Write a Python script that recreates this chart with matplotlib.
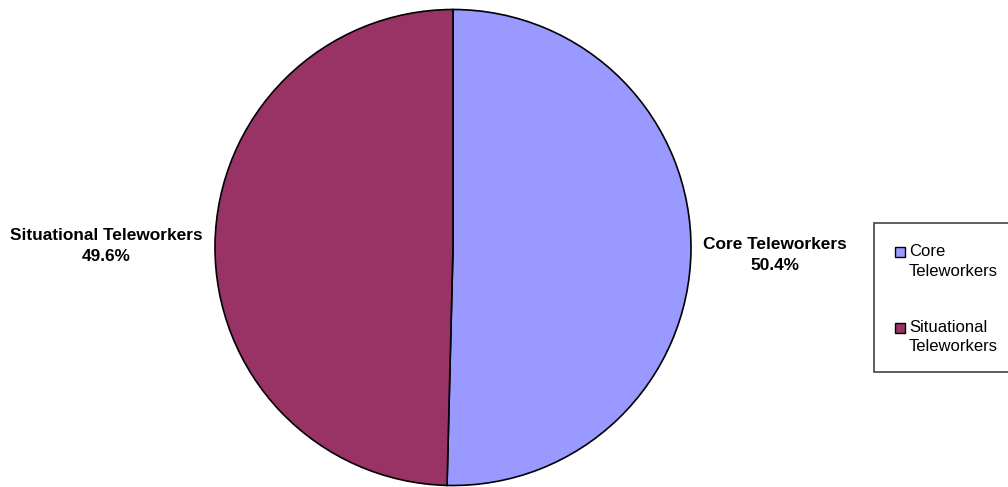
import matplotlib
matplotlib.use("Agg")
import matplotlib.pyplot as plt
from matplotlib.patches import Rectangle

plt.rcParams['font.family'] = ['Liberation Sans', 'DejaVu Sans']

categories = ["Core Teleworkers", "Situational Teleworkers"]
legend_labels = ["Core\nTeleworkers", "Situational\nTeleworkers"]
shares = [50.4, 49.6]
colors = ["#9999FF", "#993366"]

W, H = 1008, 487
fig = plt.figure(figsize=(W / 100, H / 100), dpi=100)
ax = fig.add_axes([0, 0, 1, 1])
ax.set_xlim(0, W)
ax.set_ylim(0, H)
ax.set_aspect('equal')
ax.axis('off')

cx, cy, r = 453, H - 247.5, 238
wedges, _ = ax.pie(shares, colors=colors, startangle=90, counterclock=False,
                   center=(cx, cy), radius=r,
                   wedgeprops=dict(edgecolor='black', linewidth=1.2))
ax.set_xlim(0, W)
ax.set_ylim(0, H)

# slice labels
label_pos = [(775, H - 255), (106, H - 246)]
for name, val, (x, y) in zip(categories, shares, label_pos):
    ax.text(x, y, f"{name}\n{val:.1f}%", ha='center', va='center',
            fontsize=12.4, fontweight='bold', linespacing=1.5)

# legend box
ax.add_patch(Rectangle((874, H - 372), 200, 149, facecolor='white',
                       edgecolor='#444444', linewidth=1.2, clip_on=False))
leg_y = [H - 252, H - 327.5]
for lab, col, y in zip(legend_labels, colors, leg_y):
    ax.add_patch(Rectangle((895, y - 5), 10, 10, facecolor=col,
                           edgecolor='black', linewidth=1))
    ax.text(909, y + 8, lab, ha='left', va='top', fontsize=12,
            linespacing=1.4)

fig.savefig("out.png", dpi=100)
